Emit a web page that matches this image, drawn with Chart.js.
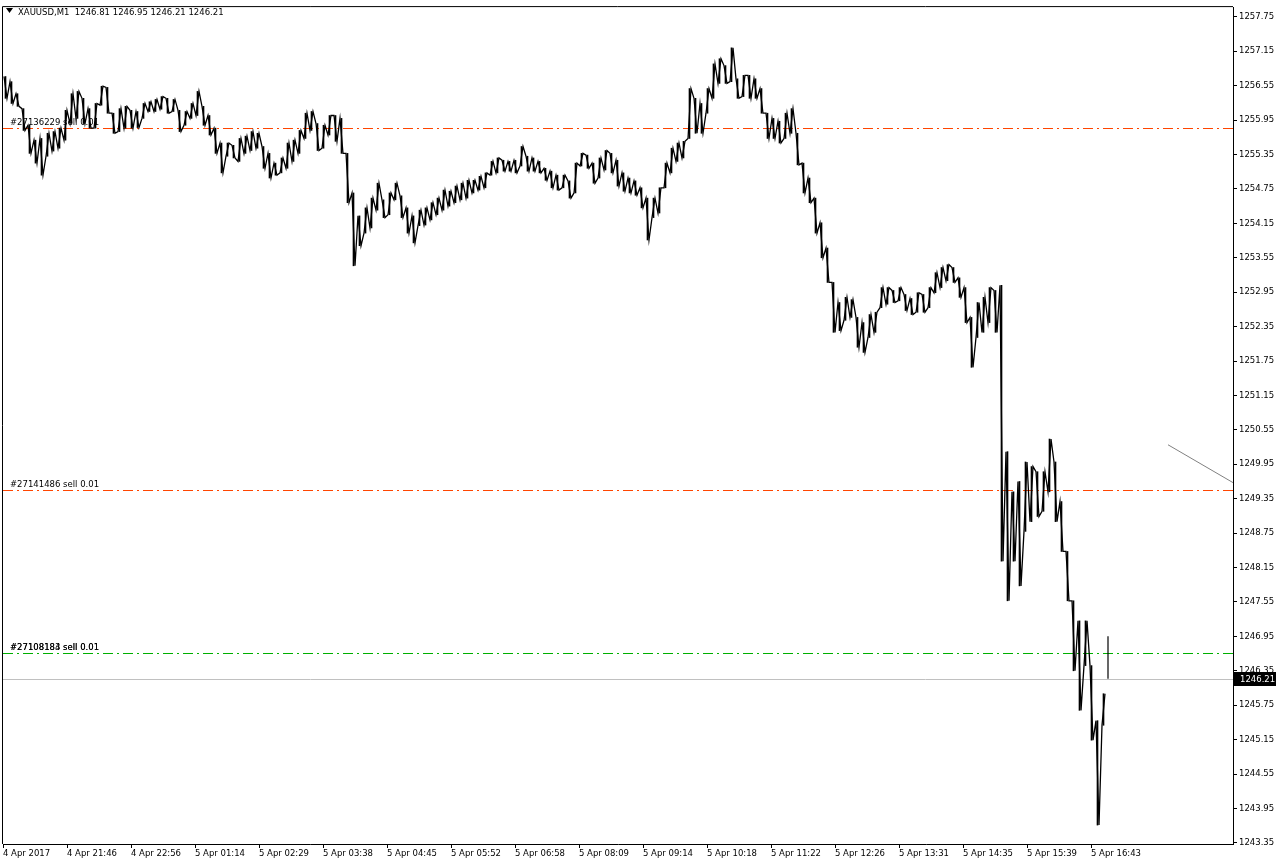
<!DOCTYPE html>
<html>
<head>
<meta charset="utf-8">
<script src="https://cdn.jsdelivr.net/npm/chart.js@4.4.1/dist/chart.umd.min.js"></script>
<style>
  html, body { margin: 0; padding: 0; background: #fff; }
  #wrap { width: 1276px; height: 868px; position: relative; }
</style>
</head>
<body>
<div id="wrap"><canvas id="xau"></canvas></div>
<script>
// XAUUSD M1 - high/low per 6 bar bucket
const BUCKET = 6;

const hi = [
  1256.71, 1256.62, 1256.41, 1256.15, 1255.86, 1255.60, 1255.63, 1255.72, 1255.75, 1255.81,
  1256.12, 1256.41, 1256.45, 1256.33, 1256.15, 1256.24, 1256.54, 1256.52, 1256.07, 1256.15,
  1256.19, 1256.12, 1256.10, 1256.24, 1256.27, 1256.31, 1256.36, 1256.33, 1256.31, 1256.12,
  1256.10, 1256.24, 1256.45, 1256.19, 1256.03, 1255.81, 1255.55, 1255.55, 1255.51, 1255.63,
  1255.67, 1255.75, 1255.72, 1255.49, 1255.37, 1255.20, 1255.29, 1255.55, 1255.60, 1255.77,
  1256.07, 1256.10, 1255.89, 1255.86, 1256.03, 1256.03, 1255.98, 1255.37, 1254.68, 1254.28,
  1254.42, 1254.59, 1254.85, 1254.56, 1254.68, 1254.85, 1254.63, 1254.42, 1254.28, 1254.38,
  1254.42, 1254.51, 1254.59, 1254.73, 1254.71, 1254.80, 1254.85, 1254.90, 1254.90, 1254.97,
  1255.03, 1255.23, 1255.29, 1255.25, 1255.23, 1255.25, 1255.49, 1255.32, 1255.29, 1255.23,
  1255.11, 1255.06, 1254.99, 1254.99, 1254.89, 1255.20, 1255.37, 1255.34, 1255.20, 1255.29,
  1255.42, 1255.37, 1255.25, 1255.03, 1254.94, 1254.89, 1254.77, 1254.59, 1254.59, 1254.77,
  1255.20, 1255.46, 1255.55, 1255.58, 1256.50, 1256.33, 1256.24, 1256.50, 1256.93, 1257.02,
  1256.90, 1257.21, 1256.67, 1256.73, 1256.73, 1256.67, 1256.50, 1256.07, 1255.98, 1255.93,
  1256.07, 1256.15, 1255.72, 1255.20, 1254.94, 1254.59, 1254.16, 1253.72, 1253.12, 1252.77,
  1252.86, 1252.82, 1252.51, 1252.42, 1252.56, 1252.60, 1253.03, 1253.03, 1252.98, 1253.03,
  1252.91, 1252.84, 1252.94, 1252.91, 1253.03, 1253.29, 1253.38, 1253.43, 1253.38, 1253.20,
  1253.03, 1252.51, 1252.77, 1252.86, 1253.03, 1252.98, 1253.07, 1250.17, 1249.47, 1249.65,
  1249.99, 1249.91, 1249.82, 1249.82, 1250.39, 1249.99, 1249.30, 1248.43, 1247.57, 1247.22,
  1247.22, 1246.44, 1245.48, 1245.95
];

const lo = [
  1256.33, 1256.24, 1256.19, 1255.77, 1255.37, 1255.20, 1254.99, 1255.32, 1255.41, 1255.46,
  1255.60, 1255.89, 1255.98, 1255.89, 1255.81, 1255.81, 1256.21, 1256.07, 1255.72, 1255.75,
  1255.81, 1255.81, 1255.82, 1255.98, 1256.10, 1256.10, 1256.14, 1256.07, 1256.10, 1255.75,
  1255.86, 1255.98, 1256.03, 1255.86, 1255.69, 1255.37, 1255.03, 1255.32, 1255.29, 1255.23,
  1255.37, 1255.42, 1255.46, 1255.11, 1254.94, 1254.99, 1255.03, 1255.11, 1255.23, 1255.37,
  1255.63, 1255.77, 1255.42, 1255.46, 1255.69, 1255.58, 1255.37, 1254.51, 1253.41, 1253.76,
  1253.98, 1254.07, 1254.38, 1254.25, 1254.30, 1254.56, 1254.25, 1253.98, 1253.81, 1254.11,
  1254.12, 1254.21, 1254.30, 1254.38, 1254.45, 1254.51, 1254.56, 1254.59, 1254.68, 1254.73,
  1254.77, 1254.99, 1255.03, 1255.06, 1255.06, 1255.03, 1255.15, 1255.06, 1255.06, 1255.03,
  1254.90, 1254.77, 1254.73, 1254.77, 1254.59, 1254.68, 1255.15, 1255.11, 1254.85, 1254.94,
  1255.08, 1255.03, 1254.80, 1254.71, 1254.68, 1254.64, 1254.42, 1253.86, 1254.25, 1254.33,
  1254.77, 1255.03, 1255.23, 1255.29, 1255.63, 1255.72, 1255.72, 1256.07, 1256.33, 1256.59,
  1256.59, 1256.62, 1256.33, 1256.36, 1256.33, 1256.33, 1256.07, 1255.63, 1255.63, 1255.55,
  1255.63, 1255.72, 1255.17, 1254.68, 1254.51, 1253.98, 1253.55, 1253.12, 1252.25, 1252.28,
  1252.46, 1252.51, 1251.99, 1251.90, 1252.16, 1252.25, 1252.68, 1252.74, 1252.77, 1252.80,
  1252.63, 1252.56, 1252.60, 1252.60, 1252.68, 1252.94, 1253.03, 1253.15, 1253.12, 1252.86,
  1252.42, 1251.64, 1252.16, 1252.25, 1252.42, 1252.25, 1248.26, 1247.57, 1248.26, 1247.83,
  1248.78, 1248.95, 1249.04, 1249.13, 1249.47, 1248.95, 1248.43, 1247.57, 1246.35, 1245.66,
  1246.44, 1245.14, 1243.66, 1245.40
];

// last (current) bar, from the header line
const lastBarIdx = 1105;
const lastOHLC = [1246.81, 1246.95, 1246.21, 1246.21];

const timeLabels = [
  '4 Apr 2017', '4 Apr 21:46', '4 Apr 22:56', '5 Apr 01:14', '5 Apr 02:29', '5 Apr 03:38',
  '5 Apr 04:45', '5 Apr 05:52', '5 Apr 06:58', '5 Apr 08:09', '5 Apr 09:14', '5 Apr 10:18',
  '5 Apr 11:22', '5 Apr 12:26', '5 Apr 13:31', '5 Apr 14:35', '5 Apr 15:39', '5 Apr 16:43'
];
const LABEL_STEP = 64;

const priceTicks = [
  1243.35, 1243.95, 1244.55, 1245.15, 1245.75, 1246.35, 1246.95, 1247.55, 1248.15, 1248.75,
  1249.35, 1249.95, 1250.55, 1251.15, 1251.75, 1252.35, 1252.95, 1253.55, 1254.15, 1254.75,
  1255.35, 1255.95, 1256.55, 1257.15, 1257.75
];

const orderLabels = ['#27136229 sell 0.01', '#27141486 sell 0.01', '#27108183 sell 0.01', '#27108184 sell 0.01'];
const orderPrices = [1255.81, 1249.51, 1246.66, 1246.66];
const orderColors = ['#ff4500', '#ff4500', '#00b000', '#00b000'];

const trendBars = [1165, 1230];
const trendPrices = [1250.29, 1249.63];

const X_MAX = 1230;
const FONT = { family: 'DejaVu Sans', size: 8.5 };

// zigzag through high/low of each bucket
const zig = [];
hi.forEach((h, i) => {
  const mid = (h + lo[i]) / 2;
  const prev = i > 0 ? (hi[i - 1] + lo[i - 1]) / 2 : mid;
  const first = mid <= prev ? h : lo[i];
  const second = mid <= prev ? lo[i] : h;
  zig.push({ x: i * BUCKET + 1, y: first });
  zig.push({ x: i * BUCKET + 4, y: second });
});

const lastClose = lastOHLC[3];

const datasets = [
  {
    label: 'price',
    data: zig,
    borderColor: '#000',
    borderWidth: 1.3,
    pointRadius: 0,
    tension: 0,
    order: 0,
  },
  {
    type: 'bar',
    label: 'range',
    data: hi.map((h, i) => ({ x: i * BUCKET + 2.5, y: [lo[i], h] })),
    backgroundColor: '#000',
    borderWidth: 0,
    barThickness: 1,
    grouped: false,
    order: 0,
  },
  {
    label: 'last bar',
    data: [{ x: lastBarIdx, y: lastOHLC[2] }, { x: lastBarIdx, y: lastOHLC[1] }],
    borderColor: '#000',
    borderWidth: 1.2,
    pointRadius: 0,
    order: 0,
  },
  {
    label: 'trend',
    data: trendBars.map((b, i) => ({ x: b, y: trendPrices[i] })),
    borderColor: '#808080',
    borderWidth: 1,
    pointRadius: 0,
    order: 2,
  },
];

function crispY(scale, v) {
  return Math.round(scale.getPixelForValue(v)) + 0.5;
}

const mtOverlay = {
  id: 'mtOverlay',
  beforeDatasetsDraw(chart) {
    const { ctx, chartArea: a, scales } = chart;
    ctx.save();
    ctx.lineWidth = 1;

    // bid line
    const yb = crispY(scales.y, lastClose);
    ctx.strokeStyle = '#c0c0c0';
    ctx.beginPath();
    ctx.moveTo(a.left, yb);
    ctx.lineTo(a.right, yb);
    ctx.stroke();

    // order lines (one stroke per level) + labels
    ctx.setLineDash([10, 4, 2, 4]);
    const done = new Set();
    orderPrices.forEach((p, i) => {
      if (done.has(p)) return;
      done.add(p);
      const y = crispY(scales.y, p);
      ctx.strokeStyle = orderColors[i];
      ctx.beginPath();
      ctx.moveTo(a.left, y);
      ctx.lineTo(a.right, y);
      ctx.stroke();
    });
    ctx.setLineDash([]);
    ctx.font = `${FONT.size}px "${FONT.family}"`;
    ctx.fillStyle = '#000';
    orderLabels.forEach((t, i) => {
      const y = crispY(scales.y, orderPrices[i]);
      ctx.fillText(t, 10, y - 3.5);
    });
    ctx.restore();
  },
  afterDatasetsDraw(chart) {
    const { ctx, chartArea: a, scales } = chart;
    ctx.save();
    // frame
    ctx.strokeStyle = '#000';
    ctx.lineWidth = 1;
    ctx.beginPath();
    ctx.moveTo(a.left - 0.5, a.bottom);
    ctx.lineTo(a.left - 0.5, a.top - 0.5);
    ctx.lineTo(a.right, a.top - 0.5);
    ctx.stroke();

    ctx.font = `${FONT.size}px "${FONT.family}"`;
    ctx.fillStyle = '#000';

    // header
    ctx.beginPath();
    ctx.moveTo(6, 8); ctx.lineTo(13, 8); ctx.lineTo(9.5, 13); ctx.closePath();
    ctx.fill();
    ctx.fillText('XAUUSD,M1  ' + lastOHLC.map(v => v.toFixed(2)).join(' '), 18, 15);

    // bid price box
    const yb = Math.round(scales.y.getPixelForValue(lastClose));
    ctx.fillRect(a.right + 1, yb - 7, chart.width - a.right - 1, 14);
    ctx.fillStyle = '#fff';
    ctx.textBaseline = 'middle';
    ctx.fillText(lastClose.toFixed(2), a.right + 7, yb + 0.5);
    ctx.restore();
  },
};

new Chart(document.getElementById('xau'), {
  type: 'line',
  data: { datasets },
  options: {
    responsive: true,
    maintainAspectRatio: false,
    animation: false,
    layout: { padding: { left: 3, top: 3, right: 0, bottom: 0 } },
    plugins: { legend: { display: false }, tooltip: { enabled: false } },
    scales: {
      x: {
        type: 'linear',
        min: 0,
        max: X_MAX,
        offset: false,
        afterBuildTicks: (s) => { s.ticks = timeLabels.map((_, i) => ({ value: i * LABEL_STEP })); },
        afterFit: (s) => { s.height = 24; },
        ticks: {
          autoSkip: false,
          maxRotation: 0,
          align: 'start',
          padding: 1,
          color: '#000',
          font: FONT,
          callback: (v) => timeLabels[Math.round(v / LABEL_STEP)],
        },
        grid: { offset: false, drawOnChartArea: false, drawTicks: true, tickLength: 4, color: '#000' },
        border: { display: true, color: '#000' },
      },
      y: {
        position: 'right',
        min: 1243.33,
        max: 1257.92,
        afterBuildTicks: (s) => { s.ticks = priceTicks.map(v => ({ value: v })); },
        afterFit: (s) => { s.width = 43; },
        ticks: {
          padding: 2,
          color: '#000',
          font: FONT,
          callback: (v) => v.toFixed(2),
        },
        grid: { drawOnChartArea: false, drawTicks: true, tickLength: 4, color: '#000' },
        border: { display: true, color: '#000' },
      },
    },
  },
  plugins: [mtOverlay],
});
</script>
</body>
</html>
